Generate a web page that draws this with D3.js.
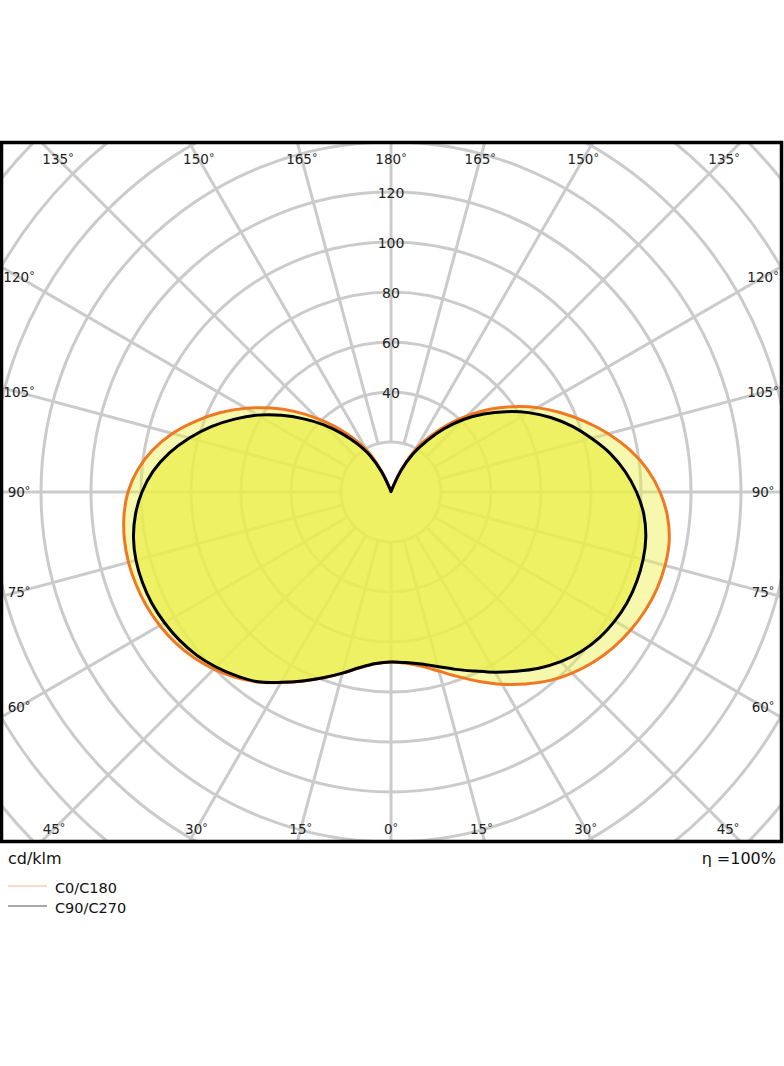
<!DOCTYPE html>
<html lang="en">
<head>
    <meta charset="UTF-8">
    <script src="https://cdn.jsdelivr.net/npm/d3@7"></script>
    <title>Polar LDC</title>
    <style>
        body { margin: 0; background: white; }
        svg text { font-family: "DejaVu Sans", sans-serif; }
    </style>
</head>
<body>
    <div class="fig"></div>

    <script>
        // gamma angles (0 = down, 180 = up), degrees
        const gamma = [0, 5, 10, 15, 20, 25, 30, 35, 40, 45, 50, 55, 60, 65, 70, 75, 80, 85, 90,
                       95, 100, 105, 110, 115, 120, 125, 130, 135, 140, 145, 150, 155, 160, 165, 170, 175, 180];

        // cd/klm
        const c0   = [68, 68.8, 70.8, 74.2, 78.6, 83.6, 88.8, 93.8, 98.5, 102.5, 105.8, 108.5, 110.6, 112.2, 113.2, 113.5, 113, 111, 107.6,
                      103, 97, 90, 82.5, 75, 67.5, 59.5, 51.5, 43, 35, 27, 19.5, 10.5, 2, 0.5, 0.3, 0.2, 0.1];
        const c180 = [68, 68.9, 71.3, 75, 79.1, 83.4, 88, 92.8, 96.8, 100.2, 103, 105.2, 106.8, 107.9, 108.5, 108.7, 108.3, 107.2, 105.2,
                      101.7, 96.8, 90.5, 83, 75.2, 67, 58.5, 50, 41.5, 33.5, 26, 19, 10, 2, 0.5, 0.3, 0.2, 0.1];
        const c90  = [68, 68.5, 69.9, 72.3, 75.5, 79, 83.2, 87.5, 92, 96, 99.3, 101.7, 103.3, 104.3, 104.6, 104.4, 103.5, 101.5, 98.2,
                      94, 89, 83, 77, 70.5, 63.5, 56, 48.5, 41, 33, 25, 17.5, 9.5, 2, 0.5, 0.3, 0.2, 0.1];
        const c270 = [68, 68.9, 71.3, 75, 79.1, 83.4, 87.9, 92.7, 96, 99, 101.5, 103.3, 104.6, 105.5, 105.8, 105.6, 104.6, 102.6, 99.6,
                      95.5, 90, 83.5, 76.5, 69, 61.5, 53.5, 45.5, 38, 30.5, 23.5, 17, 9, 2, 0.5, 0.3, 0.2, 0.1];

        const ringValues = [20, 40, 60, 80, 100, 120, 140, 160, 180, 200, 220];
        const ringLabels = [40, 60, 80, 100, 120];
        const angleTicks = [0, 15, 30, 45, 60, 75, 90, 105, 120, 135, 150, 165, 180];

        const width = 784, height = 1066;
        const cx = 391, cy = 492;
        const box = {x: 1.5, y: 142.5, w: 780, h: 699};

        const svg = d3.select(".fig").append("svg")
            .attr("width", width)
            .attr("height", height);

        svg.append("defs").append("clipPath").attr("id", "boxclip")
            .append("rect")
            .attr("x", box.x).attr("y", box.y)
            .attr("width", box.w).attr("height", box.h);

        const r = d3.scaleLinear().domain([0, 120]).range([0, 300]);

        const plot = svg.append("g").attr("clip-path", "url(#boxclip)");
        const g = plot.append("g").attr("transform", `translate(${cx},${cy})`);

        // grid rings
        g.selectAll("circle.ring")
            .data(ringValues)
            .enter()
            .append("circle")
            .attr("class", "ring")
            .attr("r", d => r(d))
            .attr("fill", "none")
            .attr("stroke", "#cbcbcb")
            .attr("stroke-width", 3);

        // spokes every 15 deg, starting at the 20 ring
        const spokes = d3.range(0, 360, 15);
        g.selectAll("line.spoke")
            .data(spokes)
            .enter()
            .append("line")
            .attr("class", "spoke")
            .attr("x1", d => r(20) * Math.sin(d * Math.PI / 180))
            .attr("y1", d => -r(20) * Math.cos(d * Math.PI / 180))
            .attr("x2", d => r(260) * Math.sin(d * Math.PI / 180))
            .attr("y2", d => -r(260) * Math.cos(d * Math.PI / 180))
            .attr("stroke", "#cbcbcb")
            .attr("stroke-width", 3);

        // closed outline: right half (angle from top = 180-gamma), left half (180+gamma)
        const outline = (right, left) => {
            const pts = [];
            gamma.forEach((gm, i) => pts.push({a: (180 - gm) * Math.PI / 180, v: right[i]}));
            for (let i = gamma.length - 2; i >= 1; i--) {
                pts.push({a: (180 + gamma[i]) * Math.PI / 180, v: left[i]});
            }
            return pts;
        };

        const radial = d3.lineRadial()
            .angle(d => d.a)
            .radius(d => r(d.v))
            .curve(d3.curveCatmullRomClosed.alpha(0.5));

        const curveA = outline(c0, c180);
        const curveB = outline(c90, c270);

        g.append("path")
            .attr("d", radial(curveA))
            .attr("fill", "rgba(236,240,75,0.45)")
            .attr("stroke", "none");

        g.append("path")
            .attr("d", radial(curveB))
            .attr("fill", "rgba(234,238,70,0.72)")
            .attr("stroke", "none");

        g.append("path")
            .attr("d", radial(curveA))
            .attr("fill", "none")
            .attr("stroke", "#f07823")
            .attr("stroke-width", 3)
            .attr("stroke-linejoin", "round");

        g.append("path")
            .attr("d", radial(curveB))
            .attr("fill", "none")
            .attr("stroke", "#000")
            .attr("stroke-width", 3)
            .attr("stroke-linejoin", "round");

        // radial value labels
        g.selectAll("text.rlab")
            .data(ringLabels)
            .enter()
            .append("text")
            .attr("class", "rlab")
            .attr("x", 0)
            .attr("y", d => -r(d) + 1)
            .attr("text-anchor", "middle")
            .attr("dominant-baseline", "central")
            .attr("font-size", 14)
            .attr("fill", "#222")
            .text(d => d);

        // angle labels along the frame
        const halfW = 372, topH = 333, botH = 337;
        const angleLabels = [];
        angleTicks.forEach(gm => {
            [1, -1].forEach(side => {
                if (side === -1 && (gm === 0 || gm === 180)) return;
                const sx = side * Math.sin(gm * Math.PI / 180);
                const sy = Math.cos(gm * Math.PI / 180);
                const tx = Math.abs(sx) > 1e-6 ? halfW / Math.abs(sx) : Infinity;
                const ty = Math.abs(sy) > 1e-6 ? (sy < 0 ? topH : botH) / Math.abs(sy) : Infinity;
                const t = Math.min(tx, ty);
                angleLabels.push({gm: gm, x: sx * t, y: sy * t});
            });
        });

        const alab = g.selectAll("text.alab")
            .data(angleLabels)
            .enter()
            .append("text")
            .attr("class", "alab")
            .attr("x", d => d.x)
            .attr("y", d => d.y + 5)
            .attr("text-anchor", "middle")
            .attr("font-size", 13.5)
            .attr("fill", "#222");
        alab.append("tspan").text(d => d.gm);
        alab.append("tspan")
            .attr("font-size", 11)
            .attr("dy", -3)
            .text("°");

        // frame
        svg.append("rect")
            .attr("x", box.x).attr("y", box.y)
            .attr("width", box.w).attr("height", box.h)
            .attr("fill", "none")
            .attr("stroke", "#000")
            .attr("stroke-width", 3.5);

        // footer texts
        svg.append("text")
            .attr("x", 8).attr("y", 864)
            .attr("font-size", 16)
            .attr("fill", "#111")
            .text("cd/klm");

        svg.append("text")
            .attr("x", 776).attr("y", 864)
            .attr("text-anchor", "end")
            .attr("font-size", 16)
            .attr("fill", "#111")
            .text("η =100%");

        // legend
        const legendNames = ["C0/C180", "C90/C270"];
        const legendColors = ["#f5b48f", "#555"];
        const legend = svg.append("g");
        legendNames.forEach((name, i) => {
            legend.append("line")
                .attr("x1", 8).attr("x2", 47)
                .attr("y1", 886 + i * 20).attr("y2", 886 + i * 20)
                .attr("stroke", legendColors[i])
                .attr("stroke-width", 1.2);
            legend.append("text")
                .attr("x", 55).attr("y", 893 + i * 20)
                .attr("font-size", 14.5)
                .attr("fill", "#111")
                .text(name);
        });
    </script>
</body>
</html>
